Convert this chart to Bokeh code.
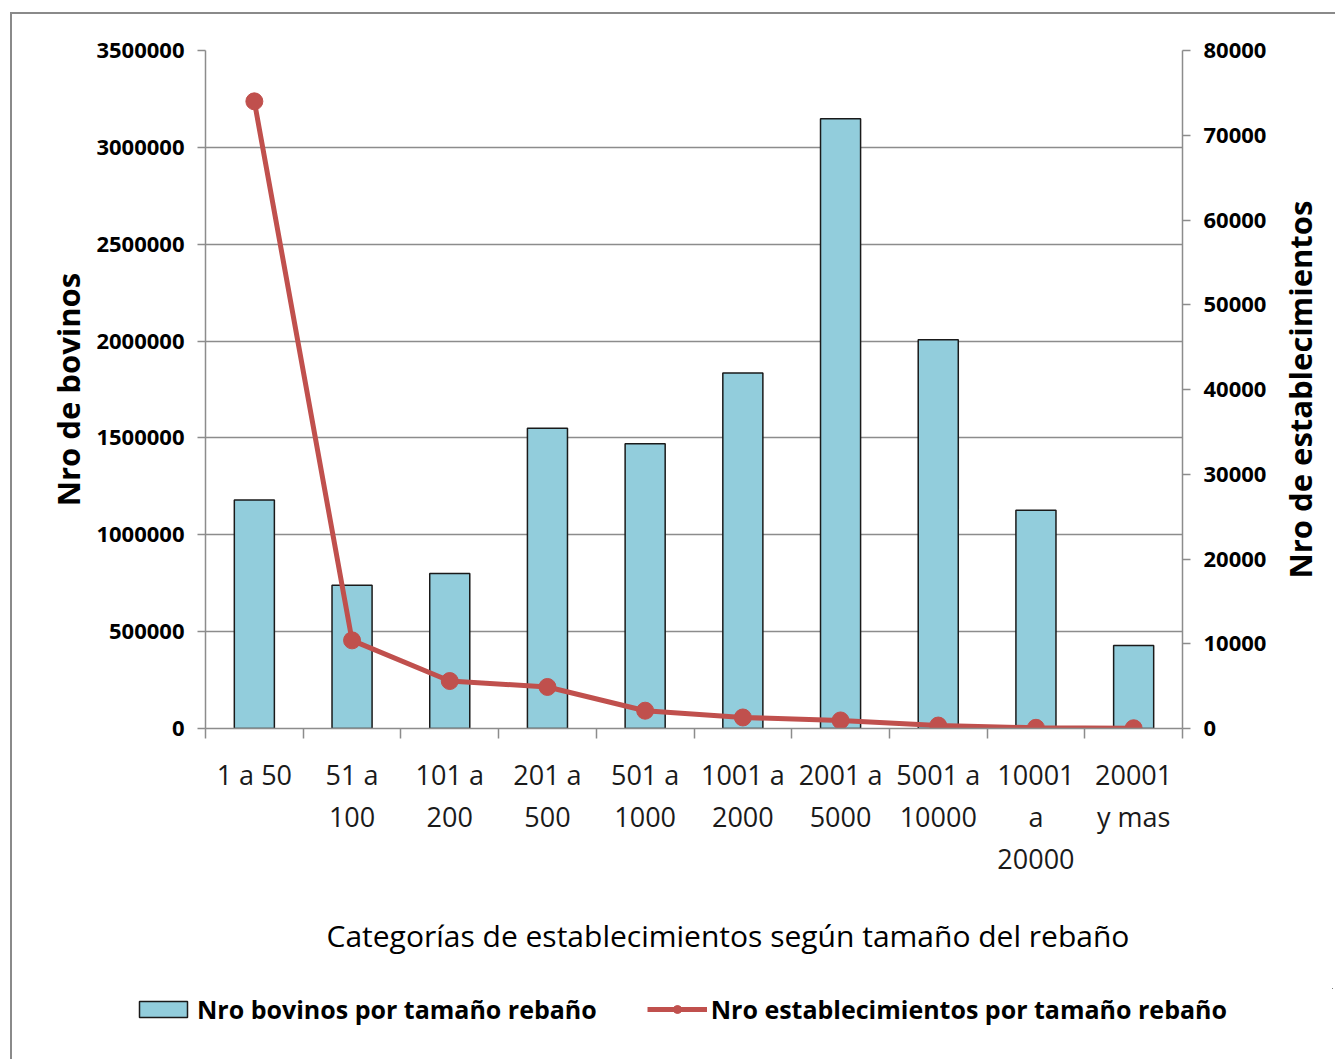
from bokeh.plotting import figure
from bokeh.layouts import row, column
from bokeh.models import (Range1d, LinearAxis, FixedTicker, NumeralTickFormatter,
                          Legend, LegendItem, Title)
from bokeh.embed import file_html
from bokeh.resources import INLINE

categories = ["1 a 50", "51 a\n100", "101 a\n200", "201 a\n500", "501 a\n1000",
              "1001 a\n2000", "2001 a\n5000", "5001 a\n10000", "10001\na\n20000", "20001\ny mas"]
bovinos = [1180000, 740000, 800000, 1550000, 1470000, 1835000, 3148000, 2007000, 1127000, 428000]
establecimientos = [74000, 10400, 5600, 4900, 2100, 1300, 950, 350, 80, 30]
left_ticks = [0, 500000, 1000000, 1500000, 2000000, 2500000, 3000000, 3500000]
right_ticks = [0, 10000, 20000, 30000, 40000, 50000, 60000, 70000, 80000]
series_names = ["Nro bovinos por tamaño rebaño", "Nro establecimientos por tamaño rebaño"]

FONT = "Open Sans"
GRAY = "#8c8c8c"
BAR = "#92CDDC"
RED = "#C0504D"

n = len(categories)
xs = [i + 0.5 for i in range(n)]

p = figure(output_backend="svg", toolbar_location=None,
           frame_width=977, frame_height=678,
           min_border_left=193, min_border_top=36, min_border_right=90, min_border_bottom=250,
           x_range=Range1d(0, n), y_range=Range1d(left_ticks[0], left_ticks[-1]),
           y_axis_location=None, x_axis_location=None)
p.outline_line_color = None
p.background_fill_color = "white"
p.border_fill_color = "white"
p.extra_y_ranges = {"right": Range1d(right_ticks[0], right_ticks[-1])}

bar_style = dict(fill_color=BAR, line_color="#1a1a1a", line_width=1.5)
line_style = dict(line_color=RED, line_width=5)
dot_style = dict(size=17, fill_color=RED, line_color=RED)

p.vbar(x=xs, top=bovinos, width=0.41, **bar_style)
p.line(x=xs, y=establecimientos, y_range_name="right", **line_style)
p.scatter(x=xs, y=establecimientos, y_range_name="right", **dot_style)

ly = LinearAxis(ticker=FixedTicker(ticks=left_ticks),
                formatter=NumeralTickFormatter(format="0"),
                axis_label="Nro de bovinos")
ry = LinearAxis(y_range_name="right", ticker=FixedTicker(ticks=right_ticks),
                formatter=NumeralTickFormatter(format="0"))
for ax in (ly, ry):
    ax.axis_line_color = GRAY
    ax.axis_line_width = 1.5
    ax.major_tick_line_color = GRAY
    ax.major_tick_line_width = 1.5
    ax.major_tick_out = 8
    ax.major_tick_in = 0
    ax.minor_tick_line_color = None
    ax.major_label_text_font = FONT
    ax.major_label_text_font_style = "bold"
    ax.major_label_text_font_size = "22px"
    ax.major_label_text_color = "black"
    ax.major_label_standoff = 13
ly.axis_label_text_font = FONT
ly.axis_label_text_font_style = "bold"
ly.axis_label_text_font_size = "31px"
ly.axis_label_text_color = "black"
ly.axis_label_standoff = 4
p.add_layout(ly, "left")
p.add_layout(ry, "right")

xa = LinearAxis(ticker=FixedTicker(ticks=xs, minor_ticks=list(range(n + 1))),
                major_label_overrides={x: c for x, c in zip(xs, categories)})
xa.axis_line_color = GRAY
xa.axis_line_width = 1.5
xa.major_tick_line_color = None
xa.major_tick_out = 0
xa.major_tick_in = 0
xa.minor_tick_line_color = GRAY
xa.minor_tick_line_width = 1.5
xa.minor_tick_out = 10
xa.minor_tick_in = 0
xa.major_label_text_font = FONT
xa.major_label_text_font_size = "27px"
xa.major_label_text_color = "#1a1a1a"
xa.major_label_text_line_height = 1.14
xa.major_label_standoff = 17
p.add_layout(xa, "below")

xtitle = Title(text="Categorías de establecimientos según tamaño del  rebaño",
               align="left", offset=121, standoff=66,
               text_font=FONT, text_font_size="30px", text_font_style="normal",
               text_color="black")
p.add_layout(xtitle, "below")

p.xgrid.visible = False
p.ygrid.ticker = FixedTicker(ticks=left_ticks)
p.ygrid.grid_line_color = GRAY
p.ygrid.grid_line_width = 1.5

# narrow companion figure carrying the right-hand axis title (reads bottom to top)
p2 = figure(output_backend="svg", toolbar_location=None,
            frame_width=21, frame_height=678,
            min_border_left=40, min_border_top=36, min_border_right=0, min_border_bottom=250,
            x_axis_location=None, y_axis_location=None)
p2.outline_line_color = None
p2.xgrid.visible = False
p2.ygrid.visible = False
p2.border_fill_color = "white"
p2.background_fill_color = "white"
p2.add_layout(Title(text="Nro de establecimientos", align="center", standoff=9,
                    text_font=FONT, text_font_size="31px", text_font_style="bold",
                    text_color="black"), "left")

# legend strip below the chart; proxy renderers use the same series but lie
# entirely outside this strip's view ranges, so only their legend swatches show
p3 = figure(output_backend="svg", toolbar_location=None,
            frame_width=1321, frame_height=75,
            min_border_left=0, min_border_top=0, min_border_right=0, min_border_bottom=0,
            x_range=Range1d(-2 * n, -n), y_range=Range1d(-2, -1),
            x_axis_location=None, y_axis_location=None)
p3.outline_line_color = None
p3.xgrid.visible = False
p3.ygrid.visible = False
p3.border_fill_color = "white"
p3.background_fill_color = "white"
lb = p3.vbar(x=xs, top=bovinos, width=0.41, **bar_style)
ll = p3.line(x=xs, y=establecimientos, **line_style)
ld = p3.scatter(x=xs, y=establecimientos, **dot_style)
legend = Legend(items=[LegendItem(label=series_names[0], renderers=[lb]),
                       LegendItem(label=series_names[1], renderers=[ll, ld])],
                orientation="horizontal", location=(121, 37),
                label_text_font=FONT, label_text_font_size="25px", label_text_font_style="bold",
                label_text_color="black", glyph_width=60, glyph_height=20,
                spacing=50, label_standoff=4, border_line_color=None,
                background_fill_alpha=0, margin=0, padding=0)
p3.add_layout(legend, "center")

layout = column(row(p, p2, spacing=0), p3, spacing=0)
layout.styles = {"border": "2px solid #8a8a8a", "margin-left": "10px", "margin-top": "12px",
                 "background-color": "white"}

open("out.html", "w").write(file_html(layout, INLINE))
